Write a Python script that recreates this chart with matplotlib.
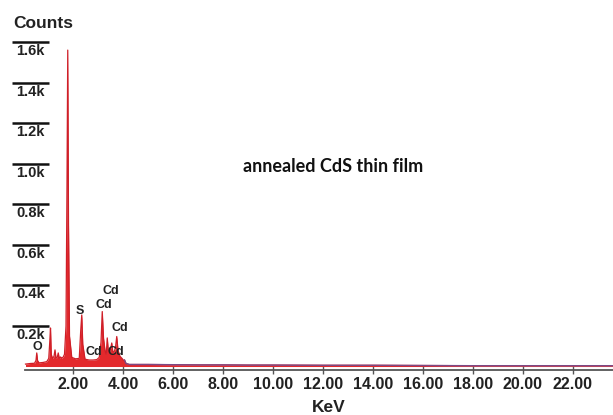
import matplotlib
matplotlib.use("Agg")
import matplotlib.pyplot as plt
import matplotlib.transforms as mtransforms

# ---- data ----
energy = [0.10, 0.30, 0.46, 0.52, 0.55, 0.58, 0.64, 0.80, 0.95, 1.03, 1.07, 1.10, 1.13,
          1.18, 1.24, 1.28, 1.32, 1.37, 1.41, 1.45, 1.50, 1.55, 1.60, 1.66, 1.72,
          1.76, 1.79, 1.82, 1.86, 1.95, 2.10, 2.25, 2.31, 2.35, 2.39, 2.48, 2.65,
          2.80, 2.95, 3.05, 3.12, 3.17, 3.22, 3.28, 3.33, 3.37, 3.41, 3.46, 3.51,
          3.55, 3.59, 3.64, 3.70, 3.75, 3.80, 3.88, 3.96, 4.02, 4.06, 4.12, 4.25,
          5.0, 6.0, 7.0, 8.0, 9.0, 10.0, 12.0, 14.0, 16.0, 18.0, 20.0, 22.0, 23.6]
counts = [12, 15, 16, 30, 67, 30, 18, 20, 24, 40, 120, 190, 60,
          40, 50, 82, 42, 45, 67, 40, 47, 42, 45, 60, 200,
          900, 1560, 700, 150, 45, 38, 40, 180, 254, 110, 36, 32,
          32, 34, 45, 120, 271, 140, 80, 60, 141, 80, 70, 90,
          116, 75, 70, 95, 148, 80, 50, 40, 30, 32, 15, 10,
          10, 9, 8, 8, 7, 7, 6, 6, 5, 4, 4, 4, 4]

ytick_values = [200, 400, 600, 800, 1000, 1200, 1400, 1600]
ytick_labels = ["0.2k", "0.4k", "0.6k", "0.8k", "1.0k", "1.2k", "1.4k", "1.6k"]
xtick_values = [2, 4, 6, 8, 10, 12, 14, 16, 18, 20, 22]
xtick_labels = ["2.00", "4.00", "6.00", "8.00", "10.00", "12.00", "14.00",
                "16.00", "18.00", "20.00", "22.00"]

peak_labels = ["O", "S", "Cd", "Cd", "Cd", "Cd", "Cd"]
peak_label_E = [0.57, 2.28, 3.24, 3.50, 3.88, 2.84, 3.73]
peak_label_c = [98, 276, 304, 372, 190, 72, 72]

# ---- figure ----
W, H = 613, 415
fig = plt.figure(figsize=(W / 100, H / 100), dpi=100)
ax = fig.add_axes([0, 0, 1, 1])
ax.set_xlim(-0.92, 23.6)
ax.set_ylim(-239, 1807)

arial = "Liberation Sans"

ax.fill_between(energy, 0, counts, color="#e3292c", lw=0, zorder=2)
ax.plot(energy, counts, color="#cf1f28", lw=0.9, zorder=3)
# tail line (purplish)
tailE = [e for e in energy if e >= 4.06]
tailC = [c for e, c in zip(energy, counts) if e >= 4.06]
ax.plot(tailE, tailC, color="#7b4a86", lw=1.0, zorder=4)

# x axis
for s in ["left", "right", "top"]:
    ax.spines[s].set_visible(False)
ax.spines["bottom"].set_position(("data", -16))
ax.spines["bottom"].set_bounds(0.1, 23.6)
ax.spines["bottom"].set_color("#555555")
ax.spines["bottom"].set_linewidth(1.3)
ax.set_xticks(xtick_values)
ax.set_xticklabels(xtick_labels, fontfamily=arial, fontweight="bold", fontsize=11.5,
                   color="#222222")
ax.tick_params(axis="x", direction="inout", length=6, width=1, color="#555555", pad=2)
ax.set_yticks([])

# y "tick" labels with overline bars
trans = mtransforms.blended_transform_factory(ax.transAxes, ax.transData)
x0, x1 = 12 / W, 49 / W
for v, lab in zip(ytick_values, ytick_labels):
    ax.plot([x0, x1], [v, v], transform=trans, color="#111111", lw=1.8,
            solid_capstyle="butt", clip_on=False)
    ax.annotate(lab, xy=((x0 + x1) / 2, v), xycoords=trans, xytext=(0, -1.5),
                textcoords="offset points", ha="center", va="top",
                fontfamily=arial, fontweight="bold", fontsize=10.5, color="#222222")

for lab, e, c in zip(peak_labels, peak_label_E, peak_label_c):
    ax.text(e, c, lab, ha="center", va="center", fontfamily=arial,
            fontweight="bold", fontsize=9, color="#222222", zorder=5)

fig.text(13 / W, 1 - 24 / H, "Counts", ha="left", va="center", fontfamily=arial,
         fontweight="bold", fontsize=12.5, color="#222222")
fig.text(329 / W, 1 - 407 / H, "KeV", ha="center", va="center", fontfamily=arial,
         fontweight="bold", fontsize=12.5, color="#222222")
fig.text(333 / W, 1 - 166 / H, "annealed CdS thin film", ha="center", va="center",
         fontfamily="Lato", fontweight="bold", fontsize=13, color="#111111")

fig.savefig("out.png", dpi=100)
